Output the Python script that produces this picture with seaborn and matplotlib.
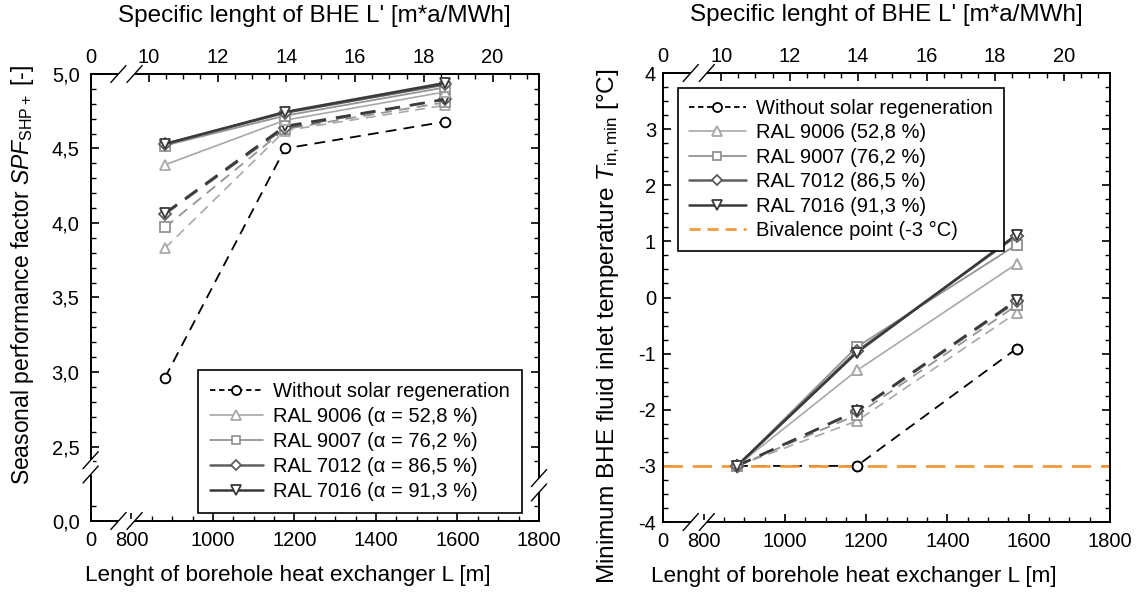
import numpy as np
import pandas as pd
import matplotlib
matplotlib.use("Agg")
import matplotlib.pyplot as plt
import seaborn as sns
from matplotlib.lines import Line2D
from matplotlib.ticker import FixedLocator, FixedFormatter

# ---------------- data ----------------
L = [882, 1177, 1570]                      # borehole length [m]
series_names = ["Without solar regeneration", "RAL 9006", "RAL 9007", "RAL 7012", "RAL 7016"]
alpha_txt = ["52,8", "76,2", "86,5", "91,3"]

# SPF, solid variant (upper) and dashed variant (lower)
spf_without = [2.96, 4.50, 4.68]
spf_9006_a = [4.39, 4.69, 4.88]
spf_9007_a = [4.52, 4.72, 4.91]
spf_7012_a = [4.53, 4.74, 4.93]
spf_7016_a = [4.53, 4.745, 4.94]
spf_9006_b = [3.83, 4.62, 4.79]
spf_9007_b = [3.97, 4.63, 4.81]
spf_7012_b = [4.06, 4.64, 4.83]
spf_7016_b = [4.065, 4.65, 4.83]

# minimum inlet temperature [°C]
tin_without = [-3.0, -3.0, -0.91]
tin_9006_a = [-3.0, -1.30, 0.60]
tin_9007_a = [-3.0, -0.88, 0.94]
tin_7012_a = [-3.0, -0.96, 1.10]
tin_7016_a = [-3.0, -0.98, 1.12]
tin_9006_b = [-3.0, -2.20, -0.27]
tin_9007_b = [-3.0, -2.09, -0.14]
tin_7012_b = [-3.0, -2.03, -0.07]
tin_7016_b = [-3.0, -2.02, -0.05]
bivalence = -3.0

L_per_Lspec = 84.3   # L = L' * 84.3

# ---------------- style ----------------
sns.set_theme(style="white")
plt.rcParams["font.family"] = ["Liberation Sans", "DejaVu Sans"]
plt.rcParams["mathtext.fontset"] = "custom"
plt.rcParams["mathtext.rm"] = "Liberation Sans"
plt.rcParams["mathtext.it"] = "Liberation Sans:italic"
plt.rcParams["mathtext.bf"] = "Liberation Sans:bold"
for k in ("text.color", "axes.labelcolor", "xtick.color", "ytick.color"):
    plt.rcParams[k] = "black"

colors = ["#000000", "#a8a8a8", "#949494", "#5e5e5e", "#3a3a3a"]
markers = ["o", "^", "s", "D", "v"]
msizes = [7, 7, 6.5, 6, 7]
lws = [1.3, 1.2, 1.3, 1.8, 1.8]
dash = (0, (6, 4))

TICK_FS = 14.5
LEG_FS = 14.5

fig = plt.figure(figsize=(11.40, 5.99), dpi=100)
axL = fig.add_axes([0.0795, 0.1302, 0.3933, 0.7463])
axR = fig.add_axes([0.5816, 0.1285, 0.3921, 0.7496])


def draw(ax, y, i, ls, z=2, markers_only=False):
    df = pd.DataFrame({"L": L, "y": y})
    kw = dict(x="L", y="y", data=df, ax=ax, color=colors[i], marker=markers[i],
              markersize=msizes[i], markerfacecolor="white", markeredgecolor=colors[i],
              markeredgewidth=1.3, lw=lws[i], zorder=z, legend=False, errorbar=None)
    kw["linestyle"] = "none" if markers_only else ls
    sns.lineplot(**kw)


# ----- left panel -----
spf_a = [spf_9006_a, spf_9007_a, spf_7012_a, spf_7016_a]
spf_b = [spf_9006_b, spf_9007_b, spf_7012_b, spf_7016_b]
draw(axL, spf_without, 0, dash)
for k in range(4):
    draw(axL, spf_b[k], k + 1, dash)
for k in range(4):
    draw(axL, spf_a[k], k + 1, "-")

# ----- right panel -----
tin_a = [tin_9006_a, tin_9007_a, tin_7012_a, tin_7016_a]
tin_b = [tin_9006_b, tin_9007_b, tin_7012_b, tin_7016_b]
draw(axR, tin_without, 0, dash)
for k in range(4):
    draw(axR, tin_b[k], k + 1, dash)
for k in range(4):
    draw(axR, tin_a[k], k + 1, "-")
axR.axhline(bivalence, color="#f39a3c", lw=2.0, linestyle=(0, (7, 3.5)), zorder=2.5)
draw(axR, tin_without, 0, dash, z=3, markers_only=True)
for k in range(4):
    draw(axR, tin_b[k], k + 1, dash, z=3, markers_only=True)
for k in range(4):
    draw(axR, tin_a[k], k + 1, "-", z=3, markers_only=True)


def legend_handles(bival=False):
    hs = [Line2D([], [], color=colors[0], lw=lws[0], linestyle=(0, (3, 2)), marker="o",
                 markersize=msizes[0] - 0.5, markerfacecolor="white", markeredgewidth=1.3)]
    for k in range(4):
        hs.append(Line2D([], [], color=colors[k + 1], lw=lws[k + 1], linestyle="-",
                         marker=markers[k + 1], markersize=msizes[k + 1] - 0.5,
                         markerfacecolor="white", markeredgewidth=1.3))
    if bival:
        hs.append(Line2D([], [], color="#f39a3c", lw=2.0, linestyle=(0, (4, 2.5))))
    return hs


leg_kw = dict(borderaxespad=0, fontsize=LEG_FS, frameon=True, fancybox=False, framealpha=1,
              edgecolor="black", handletextpad=0.5, labelspacing=0.3, borderpad=0.6)
labsL = [series_names[0]] + [f"{series_names[k+1]} (\u03b1 = {alpha_txt[k]} %)" for k in range(4)]
legL = axL.legend(legend_handles(), labsL, loc="lower right", bbox_to_anchor=(0.961, 0.017),
                  handlelength=2.6, **leg_kw)
legL.get_frame().set_linewidth(1.2)

labsR = [series_names[0]] + [f"{series_names[k+1]} ({alpha_txt[k]} %)" for k in range(4)] + ["Bivalence point (-3 °C)"]
legR = axR.legend(legend_handles(bival=True), labsR, loc="upper left", bbox_to_anchor=(0.034, 0.967),
                  handlelength=2.8, **dict(leg_kw, labelspacing=0.27, borderpad=0.55))
legR.get_frame().set_linewidth(1.2)

# ----- axes formatting -----
xt = [700, 800, 1000, 1200, 1400, 1600, 1800]
xtl = ["0", "800", "1000", "1200", "1400", "1600", "1800"]
xminor = list(range(850, 1800, 50))
tt = [700 / L_per_Lspec, 10, 12, 14, 16, 18, 20]
ttl = ["0", "10", "12", "14", "16", "18", "20"]
tminor = list(np.arange(10.5, 21.5, 0.5))

xlab_x = {0: 0.44, 1: 0.427}
for idx, ax in enumerate((axL, axR)):
    ax.set_xlim(700, 1800)
    ax.xaxis.set_major_locator(FixedLocator(xt))
    ax.xaxis.set_major_formatter(FixedFormatter(xtl))
    ax.xaxis.set_minor_locator(FixedLocator(xminor))
    ax.tick_params(axis="both", which="both", direction="in", top=False, right=True,
                   bottom=True, left=True, labelsize=TICK_FS, colors="black")
    ax.tick_params(axis="x", pad=7)
    ax.tick_params(which="major", length=6, width=1.2)
    ax.tick_params(which="minor", length=3.5, width=1.0)
    for s in ax.spines.values():
        s.set_visible(True)
        s.set_color("black")
        s.set_linewidth(1.4)
    ax.set_xlabel("Lenght of borehole heat exchanger L [m]", fontsize=16.2)
    ax.xaxis.set_label_coords(xlab_x[idx], -0.098)
    sec = ax.secondary_xaxis("top", functions=(lambda x: x / L_per_Lspec, lambda x: x * L_per_Lspec))
    sec.xaxis.set_major_locator(FixedLocator(tt))
    sec.xaxis.set_major_formatter(FixedFormatter(ttl))
    sec.xaxis.set_minor_locator(FixedLocator(tminor))
    sec.tick_params(which="both", direction="in", labelsize=TICK_FS, pad=5, colors="black")
    sec.tick_params(which="major", length=6, width=1.2)
    sec.tick_params(which="minor", length=3.5, width=1.0)
    sec.spines["top"].set_linewidth(1.4)
    sec.set_xlabel("Specific lenght of BHE L' [m*a/MWh]", fontsize=17.5)
    sec.xaxis.set_label_coords(0.5, 1.105, transform=ax.transAxes)
    sec.xaxis.label.set_va("bottom")

axL.set_ylim(2.0, 5.0)
axL.yaxis.set_major_locator(FixedLocator([2.0, 2.5, 3.0, 3.5, 4.0, 4.5, 5.0]))
axL.yaxis.set_major_formatter(FixedFormatter(["0,0", "2,5", "3,0", "3,5", "4,0", "4,5", "5,0"]))
axL.yaxis.set_minor_locator(FixedLocator([2.1] + [round(v, 2) for v in np.arange(2.4, 5.0, 0.1)]))
axL.tick_params(axis="y", pad=8)
axL.set_ylabel(r"Seasonal performance factor $\mathit{SPF}_{\mathrm{SHP+}}$ [-]", fontsize=16.5)
axL.yaxis.set_label_coords(-0.122, 0.55)

axR.set_ylim(-4, 4)
axR.yaxis.set_major_locator(FixedLocator(list(range(-4, 5))))
axR.yaxis.set_major_formatter(FixedFormatter([str(v) for v in range(-4, 5)]))
axR.yaxis.set_minor_locator(FixedLocator(list(np.arange(-4, 4.01, 0.25))))
axR.tick_params(axis="y", pad=5)
axR.set_ylabel(r"Minimum BHE fluid inlet temperature $\mathit{T}_{\mathrm{in,min}}$ [°C]", fontsize=17.6)
axR.yaxis.set_label_coords(-0.092, 0.437)


# ----- axis break marks -----
def hbreak(ax, cx, y):
    g = 0.018
    ax.plot([cx - g, cx + g], [y, y], transform=ax.transAxes, color="white", lw=3,
            clip_on=False, zorder=10, solid_capstyle="butt")
    for off in (-g, g):
        ax.plot([cx + off - 0.017, cx + off + 0.017], [y - 0.019, y + 0.019],
                transform=ax.transAxes, color="black", lw=1.0, clip_on=False, zorder=11)


def vbreak(ax, x, cy):
    g = 0.016
    ax.plot([x, x], [cy - g, cy + g], transform=ax.transAxes, color="white", lw=3,
            clip_on=False, zorder=10, solid_capstyle="butt")
    for off in (-g, g):
        ax.plot([x - 0.017, x + 0.017], [cy + off - 0.019, cy + off + 0.019],
                transform=ax.transAxes, color="black", lw=1.0, clip_on=False, zorder=11)


for ax in (axL, axR):
    hbreak(ax, 0.08, 0.0)
    hbreak(ax, 0.08, 1.0)
vbreak(axL, 0.0, 0.12)
vbreak(axL, 1.0, 0.08)

fig.savefig("out.png", dpi=100, facecolor="white")
